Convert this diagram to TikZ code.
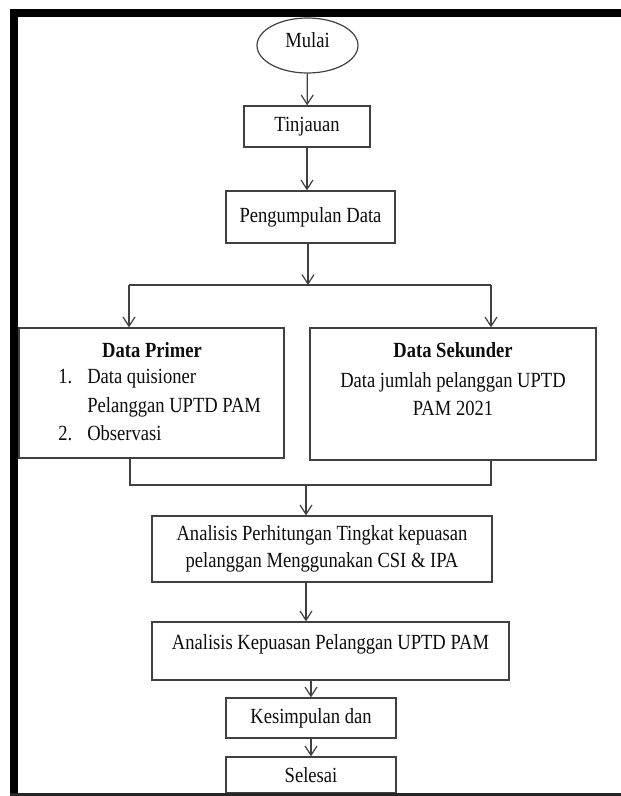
\documentclass[tikz,border=0pt]{standalone}
\usepackage{fontspec}
\setmainfont{Liberation Serif}[FakeStretch=0.86]
\usetikzlibrary{shapes.geometric,arrows.meta}

\tikzset{
    flowbox/.style={draw=black!75, line width=0.9pt, rectangle, inner sep=0pt,
        align=center, text=black!95},
    flowarrow/.style={draw=black!75, line width=0.9pt,
        -{Straight Barb[length=7pt,width=9pt]}},
    flowline/.style={draw=black!75, line width=0.9pt},
    flowtext/.style={anchor=base, inner sep=0pt, text=black!95},
}

\begin{document}
\begin{tikzpicture}[x=0.75pt, y=-0.75pt, font=\fontsize{16.2}{20}\selectfont]
    \useasboundingbox (0,0) rectangle (621,796);

    % boxes
    \node[flowbox, ellipse, minimum width=75.75pt, minimum height=41.25pt,
        text depth=8pt] (mulai) at (307.5,45.5) {Mulai};
    \node[flowbox, minimum width=94.5pt, minimum height=30.75pt]
        (tinjauan) at (307,126.5) {Tinjauan};
    \node[flowbox, minimum width=126.75pt, minimum height=39pt]
        (kumpul) at (310.5,217) {Pengumpulan Data};
    \node[flowbox, minimum width=198.75pt, minimum height=97.5pt]
        (primer) at (151.5,393) {};
    \node[flowbox, minimum width=214.5pt, minimum height=99pt]
        (sekunder) at (453,394) {};
    \node[flowbox, minimum width=255pt, minimum height=49.5pt]
        (hitung) at (322,549)
        {Analisis Perhitungan Tingkat kepuasan\\pelanggan Menggunakan CSI \& IPA};
    \node[flowbox, minimum width=267.75pt, minimum height=43.5pt,
        text depth=14pt] (kepuasan) at (330.5,651)
        {Analisis Kepuasan Pelanggan UPTD PAM};
    \node[flowbox, minimum width=127.5pt, minimum height=30pt]
        (simpul) at (311,718) {Kesimpulan dan};
    \node[flowbox, minimum width=127.5pt, minimum height=27pt]
        (selesai) at (311,775) {Selesai};

    % texts inside the two data boxes
    \node[flowtext, font=\fontsize{16.2}{20}\selectfont\bfseries] (primerhead)
        at (152,357) {Data Primer};
    \node[flowtext, anchor=base west] (nosatu) at (58,383) {1.};
    \node[flowtext, anchor=base west] (itemsatu) at (87,383) {Data quisioner};
    \node[flowtext, anchor=base west] (itemsatub) at (87,412) {Pelanggan UPTD PAM};
    \node[flowtext, anchor=base west] (nodua) at (58,440) {2.};
    \node[flowtext, anchor=base west] (itemdua) at (87,440) {Observasi};
    \node[flowtext, font=\fontsize{16.2}{20}\selectfont\bfseries] (sekhead)
        at (453,357) {Data Sekunder};
    \node[flowtext] (sekline) at (453,387) {Data jumlah pelanggan UPTD};
    \node[flowtext] (seklineb) at (453,415) {PAM 2021};

    % connectors
    \coordinate (split) at (308,285);
    \coordinate (spl) at (129,285);
    \coordinate (spr) at (491,285);
    \coordinate (mrl) at (130,485);
    \coordinate (mrr) at (491,485);
    \coordinate (merge) at (306,485);

    \draw[flowarrow] (mulai) -- (tinjauan);
    \draw[flowarrow] (tinjauan.south) -- (tinjauan.south |- kumpul.north);
    \draw[flowarrow] (split |- kumpul.south) -- (split);
    \draw[flowline] (spl) -- (spr);
    \draw[flowarrow] (spl) -- (spl |- primer.north);
    \draw[flowarrow] (spr) -- (spr |- sekunder.north);
    \draw[flowline] (mrl |- primer.south) -- (mrl) -- (mrr) -- (mrr |- sekunder.south);
    \draw[flowarrow] (merge) -- (merge |- hitung.north);
    \draw[flowarrow] (merge |- hitung.south) -- (merge |- kepuasan.north);
    \draw[flowarrow] (simpul.north |- kepuasan.south) -- (simpul.north);
    \draw[flowarrow] (simpul) -- (selesai);

    % frame
    \fill[black] (10,9) rectangle (621,17);
    \fill[black] (10,9) rectangle (18,796);
    \fill[black!85] (10,793) rectangle (621,796);
\end{tikzpicture}
\end{document}
